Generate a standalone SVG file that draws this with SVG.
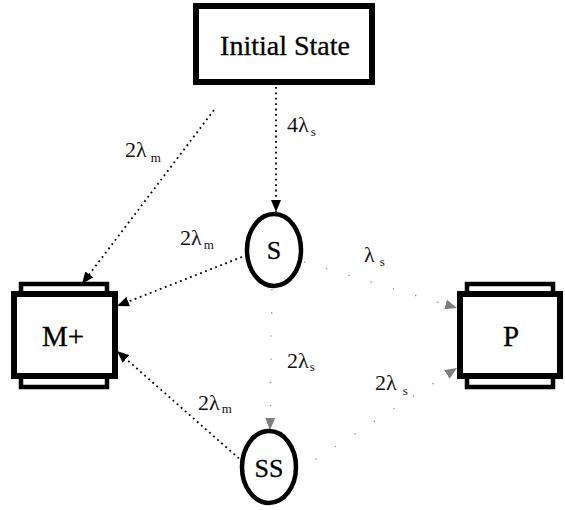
<svg xmlns="http://www.w3.org/2000/svg" width="565" height="510" viewBox="0 0 565 510">
<style>
.box{fill:#fff;stroke:#000;stroke-width:6}
.bar{fill:#fff;stroke:#000;stroke-width:4.5}
.ell{fill:#fff;stroke:#000;stroke-width:4.5}
.t{font-family:"Liberation Serif",serif;fill:#000;stroke:#000;stroke-width:0.3;text-anchor:middle}
.lbl{font-family:"Liberation Serif",serif;fill:#111;font-size:22px}
.sub{font-size:13px}
.c{fill:none;stroke:#000;stroke-width:1.8;stroke-dasharray:1.8 3.6}
.cf{fill:none;stroke:#000;stroke-width:1.2;stroke-dasharray:1.2 22;opacity:.5}
</style>
<defs>
<marker id="ah" viewBox="0 0 12 10" refX="12" refY="5" markerWidth="12" markerHeight="10" markerUnits="userSpaceOnUse" orient="auto">
<path d="M0,0 L12,5 L0,10 Z" fill="#000"/>
</marker>
</defs>
<g id="connectors">
<path class="c" d="M276,87 L276,212" marker-end="url(#ah)"/>
<path class="c" d="M214,110 L82,284" marker-end="url(#ah)"/>
<path class="c" d="M247,255 L117,306" marker-end="url(#ah)"/>
<path class="c" d="M243,462 L117,351" marker-end="url(#ah)"/>
<path class="cf" d="M304,262 L457,308" marker-end="url(#ah)"/>
<path class="cf" d="M296,472 L457,368" marker-end="url(#ah)"/>
<path class="cf" d="M272,289 L270,430" marker-end="url(#ah)"/>
</g>
<g id="labels">
<text class="lbl" x="125" y="157">2λ<tspan class="sub" dx="4" dy="5">m</tspan></text>
<text class="lbl" x="287" y="132">4λ<tspan class="sub" dx="2" dy="4">s</tspan></text>
<text class="lbl" x="180" y="245">2λ<tspan class="sub" dx="2" dy="4">m</tspan></text>
<text class="lbl" x="364" y="262">λ<tspan class="sub" dx="5" dy="4">s</tspan></text>
<text class="lbl" x="287" y="368">2λ<tspan class="sub" dx="1" dy="3">s</tspan></text>
<text class="lbl" x="375" y="390">2λ<tspan class="sub" dx="6" dy="5">s</tspan></text>
<text class="lbl" x="198" y="410">2λ<tspan class="sub" dx="2" dy="3">m</tspan></text>
</g>
<g id="initial">
<rect class="box" x="196" y="6" width="176" height="76"/>
<text class="t" x="285" y="55" font-size="28">Initial State</text>
</g>
<g id="S">
<ellipse class="ell" cx="274" cy="250" rx="27" ry="36"/>
<text class="t" x="274" y="259" font-size="26">S</text>
</g>
<g id="SS">
<ellipse class="ell" cx="269" cy="467" rx="27" ry="36"/>
<text class="t" x="269" y="477" font-size="26">SS</text>
</g>
<g id="Mplus">
<rect class="bar" x="21" y="284" width="86" height="11"/>
<rect class="bar" x="21" y="376" width="86" height="11"/>
<rect class="box" x="14" y="294" width="101" height="82"/>
<text class="t" x="63" y="346" font-size="29">M+</text>
</g>
<g id="P">
<rect class="bar" x="467" y="284" width="86" height="11"/>
<rect class="bar" x="467" y="376" width="86" height="11"/>
<rect class="box" x="460" y="294" width="100" height="82"/>
<text class="t" x="511" y="346" font-size="29">P</text>
</g>
</svg>
